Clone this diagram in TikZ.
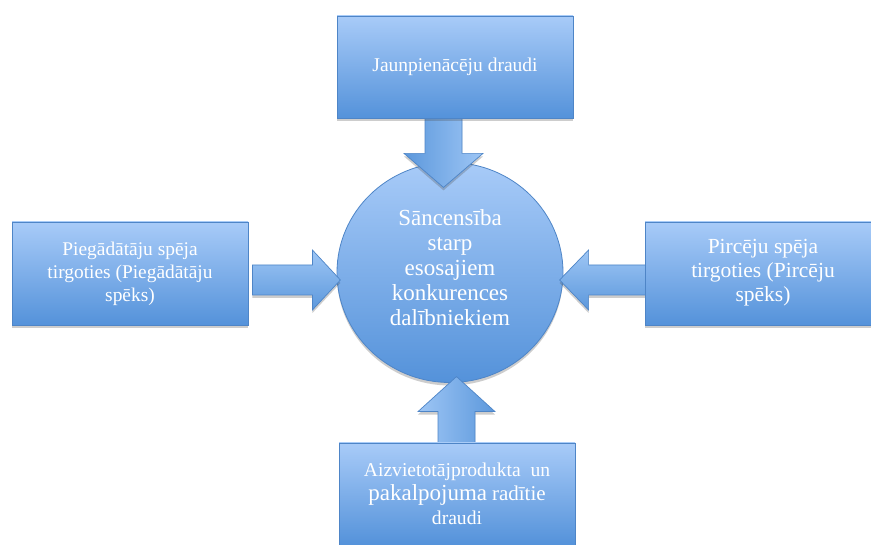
\documentclass[tikz,border=0pt]{standalone}
\usepackage{fontspec}
\setmainfont{Liberation Serif}
\usetikzlibrary{shapes.geometric,shadows}
\definecolor{gtop}{RGB}{168,203,248}
\definecolor{gbot}{RGB}{84,146,218}
\definecolor{bord}{RGB}{78,133,199}
\definecolor{alight}{RGB}{158,198,245}
\definecolor{adark}{RGB}{92,152,220}
\pgfdeclarelayer{bg}
\pgfdeclarelayer{arr}
\pgfsetlayers{bg,arr,main}
\begin{document}
\begin{tikzpicture}[x=1pt,y=-1pt,
  softshadow/.style={drop shadow={shadow xshift=0pt,shadow yshift=-3pt,opacity=0.28,fill=black!70}},
  box/.style={draw=bord,line width=0.8pt,top color=gtop,bottom color=gbot,
    minimum width=236pt,minimum height=102pt,inner sep=2pt,align=center,
    text=white,softshadow},
  hub/.style={ellipse,draw=bord,line width=0.8pt,top color=gtop,bottom color=gbot,
    minimum width=226pt,minimum height=220pt,inner sep=0pt,align=center,text=white,
    softshadow},
  arrowH/.style={draw=bord,line width=0.7pt,top color=alight,bottom color=adark,softshadow},
  arrowD/.style={draw=bord,line width=0.7pt,left color=adark,right color=alight,softshadow},
  arrowU/.style={draw=bord,line width=0.7pt,left color=alight,right color=adark,softshadow}]
\clip (0,0) rectangle (871,545);

\node[box,font=\fontsize{19.5}{23}\selectfont] (topbox) at (455,67) {\raisebox{-4pt}{Jaunpienācēju draudi}};
\node[box,minimum height=103pt,font=\fontsize{19.4}{23}\selectfont] (lbox) at (130,273.5)
  {Piegādātāju spēja\\tirgoties (Piegādātāju\\spēks)};
\node[box,minimum height=103pt,font=\fontsize{21.5}{24}\selectfont] (rbox) at (763,273.5)
  {Pircēju spēja\\tirgoties (Pircēju\\spēks)\\[-18pt]\mbox{}};
\node[box,font=\fontsize{19.6}{24}\selectfont,text depth=0pt] (bbox) at (457,494)
  {Aizvietotājprodukta\ \ un\\{\fontsize{23}{24}\selectfont pakalpojuma} {\fontsize{21}{24}\selectfont radītie}\\draudi};

\begin{pgfonlayer}{bg}
\fill[white] (0,0) rectangle (871,545);
\node[hub,font=\fontsize{23}{25}\selectfont] (hub) at (450,272.5)
  {Sāncensība\\starp\\esosajiem\\konkurences\\dalībniekiem\\[-16pt]\mbox{}};
\end{pgfonlayer}

\coordinate (tS) at ([xshift=-11.5pt]topbox.south);
\coordinate (bS) at ([xshift=-0.5pt]bbox.north);
\coordinate (lS) at ([xshift=4pt,yshift=-6.5pt]lbox.east);
\coordinate (rS) at ([xshift=3pt,yshift=-6.5pt]rbox.west);

\begin{pgfonlayer}{arr}
\path[arrowD] (tS) ++(-18.5,0) -- ++(0,35) -- ++(-21,0) -- ++(39.5,34)
  -- ++(39.5,-34) -- ++(-21,0) -- ++(0,-35) -- cycle;
\path[arrowU] (bS) ++(-18.5,0) -- ++(0,-31) -- ++(-20,0) -- ++(38.5,-35)
  -- ++(38.5,35) -- ++(-20,0) -- ++(0,31) -- cycle;
\path[arrowH] (lS) ++(0,-15) -- ++(60,0) -- ++(0,-15) -- ++(28,30)
  -- ++(-28,30) -- ++(0,-15) -- ++(-60,0) -- cycle;
\path[arrowH] (rS) ++(0,-15) -- ++(-59,0) -- ++(0,-15) -- ++(-29,30)
  -- ++(29,30) -- ++(0,-15) -- ++(59,0) -- cycle;
\end{pgfonlayer}
\end{tikzpicture}
\end{document}
